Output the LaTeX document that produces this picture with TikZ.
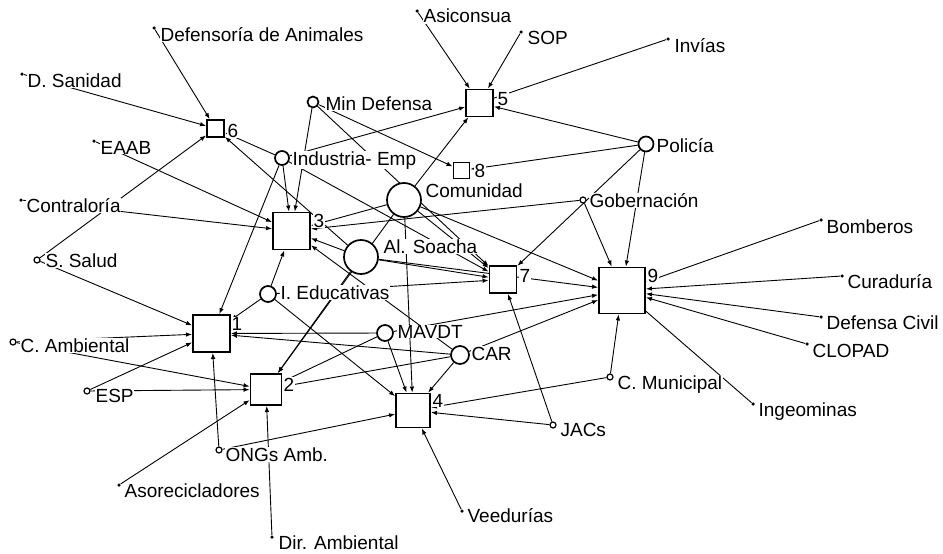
\documentclass[tikz,border=0pt]{standalone}
\usepackage{fontspec}
\setmainfont{Liberation Sans}
\usetikzlibrary{arrows.meta,backgrounds}
\begin{document}
\begin{tikzpicture}[x=1pt,y=-1pt,
 sq/.style={draw,fill=white,line width=1.9pt,minimum size=#1,inner sep=0,shape=rectangle},
 ci/.style={draw,fill=white,circle,line width=1.7pt,minimum size=#1,inner sep=0},
 dt/.style={fill=black,circle,minimum size=3.5pt,inner sep=0},
 oc/.style={draw,fill=white,circle,line width=1.2pt,minimum size=6pt,inner sep=0},
 lab/.style={anchor=base west,fill=white,inner sep=0.4pt,font=\fontsize{19}{21}\selectfont},
 ed/.style={line width=0.9pt,-{Latex[length=6pt,width=4.5pt]}},
 ln/.style={line width=0.9pt}]
\useasboundingbox (0,0) rectangle (943,554);
% squares
\node[sq=17pt] (S6) at (215.5,128.5) {};
\node[sq=27pt] (S5) at (479.5,103) {};
\node[sq=16pt] (S8) at (461.5,170.5) {};
\node[sq=37pt] (S3) at (291.5,231) {};
\node[sq=27pt] (S7) at (503,279.5) {};
\node[sq=46pt] (S9) at (622,290.5) {};
\node[sq=37pt] (S1) at (211.5,333.5) {};
\node[sq=31pt] (S2) at (266,389.5) {};
\node[sq=34pt] (S4) at (413,410.5) {};
% circles
\node[ci=34pt] (Com) at (404,200) {};
\node[ci=34pt] (AlS) at (361,257) {};
\node[ci=18pt] (CAR) at (460,355) {};
\node[ci=16pt] (MAV) at (385,333) {};
\node[ci=16pt] (IEd) at (268,294) {};
\node[ci=15pt] (Pol) at (646,144) {};
\node[ci=14pt] (Ind) at (282,158) {};
\node[ci=11pt] (MinD) at (313,102) {};
\node[oc] (Gob) at (583,200) {};
\node[oc] (CMun) at (610,377) {};
\node[oc] (JACs) at (553,425) {};
\node[oc] (ONG) at (219,450) {};
\node[oc] (SSal) at (37,260) {};
\node[oc] (CAmb) at (13,342) {};
\node[oc] (ESP) at (87,391) {};
% dots
\node[dt] (DefAn) at (154,28) {};
\node[dt] (DSan) at (22,74) {};
\node[dt] (EAAB) at (94,141) {};
\node[dt] (Contr) at (21,200) {};
\node[dt] (Asic) at (417,11) {};
\node[dt] (SOP) at (521,32) {};
\node[dt] (Inv) at (668,39) {};
\node[dt] (Bomb) at (821,220) {};
\node[dt] (Cura) at (842,276) {};
\node[dt] (DefC) at (821,317) {};
\node[dt] (CLOP) at (807,344) {};
\node[dt] (Ingeo) at (753,404) {};
\node[dt] (Veed) at (462,511) {};
\node[dt] (Asor) at (119,485) {};
\node[dt] (DirA) at (272,537) {};
% edges
\begin{scope}[on background layer]
\draw[ed] (DefAn) -- (S6);
\draw[ed] (DSan) -- (S6);
\draw[ed] (SSal) -- (S6);
\draw[ed] (Ind) -- (S6);
\draw[ed] (AlS) -- (S6);
\draw[ed] (Asic) -- (S5);
\draw[ed] (SOP) -- (S5);
\draw[ed] (Ind) -- (S5);
\draw[ed] (Com) -- (S5);
\draw[ed] (Pol) -- (S5);
\draw[ln] (Inv) -- (S5);
\draw[ed] (MinD) -- (S8);
\draw[ed] (Pol) -- (S8);
\draw[ed] (EAAB) -- (S3);
\draw[ed] (Contr) -- (S3);
\draw[ed] (Ind) -- (S3);
\draw[ed] (MinD) -- (S3);
\draw[ed] (Com) -- (S3);
\draw[ed] (Gob) -- (S3);
\draw[ed] (IEd) -- (S3);
\draw[ed] (AlS) -- (S3);
\draw[ed] (CAR) -- (S3);
\draw[ed] (MinD) -- (S7);
\draw[ed] (Com) -- (S7);
\draw[ed] (AlS) -- (S7);
\draw[ed] (IEd) -- (S7);
\draw[ed] (Ind) -- (S7);
\draw[ed] (JACs) -- (S7);
\draw[ed] (Pol) -- (S7);
\draw[ed] (Com) -- (S9);
\draw[ed] (Gob) -- (S9);
\draw[ed] (Pol) -- (S9);
\draw[ed] (Bomb) -- (S9);
\draw[ed] (Cura) -- (S9);
\draw[ed] (DefC) -- (S9);
\draw[ed] (CLOP) -- (S9);
\draw[ed] (CMun) -- (S9);
\draw[ln] (Ingeo) -- (S9);
\draw[ed] (AlS) -- (S9);
\draw[ed] (MAV) -- (S9);
\draw[ed] (CAR) -- (S9);
\draw[ed] (SSal) -- (S1);
\draw[ed] (CAmb) -- (S1);
\draw[ed] (ESP) -- (S1);
\draw[ed] (ONG) -- (S1);
\draw[ed] (Ind) -- (S1);
\draw[ed] (IEd) -- (S1);
\draw[ed] (MAV) -- (S1);
\draw[ed] (CAR) -- (S1);
\draw[ed] (CAmb) -- (S2);
\draw[ed] (ESP) -- (S2);
\draw[ed] (Asor) -- (S2);
\draw[ed] (DirA) -- (S2);
\draw[ed] (AlS) -- (S2);
\draw[ed] (MAV) -- (S2);
\draw[ed] (CAR) -- (S2);
\draw[ed] (Com) -- (S2);
\draw[ed] (ONG) -- (S4);
\draw[ed] (Veed) -- (S4);
\draw[ed] (JACs) -- (S4);
\draw[ed] (CMun) -- (S4);
\draw[ed] (MAV) -- (S4);
\draw[ed] (Com) -- (S4);
\draw[ed] (IEd) -- (S4);
\draw[ed] (CAR) -- (S4);
\end{scope}
% square labels
\node[lab] (l6) at (227,137) {6};
\node[lab] (l5) at (497,105) {5};
\node[lab] (l8) at (474,177) {8};
\node[lab] (l3) at (313,227) {3};
\node[lab] (l7) at (519,282) {7};
\node[lab] (l9) at (647,282) {9};
\node[lab] (l1) at (231,330) {1};
\node[lab] (l2) at (283,391) {2};
\node[lab] (l4) at (432,407) {4};
% actor labels
\node[lab] (tMinD) at (325,110) {Min Defensa};
\node[lab] (tInd) at (292,165) {Industria- Emp};
\node[lab] (tCom) at (425,197) {Comunidad};
\node[lab] (tAlS) at (383,253) {Al. Soacha};
\node[lab] (tIEd) at (280,299) {I. Educativas};
\node[lab] (tMAV) at (397,338) {MAVDT};
\node[lab] (tCAR) at (471,360) {CAR};
\node[lab] (tPol) at (656,152) {Policía};
\node[lab] (tGob) at (589,207) {Gobernación};
\node[lab] (tCMun) at (617,389) {C. Municipal};
\node[lab] (tJACs) at (560,436) {JACs};
\node[lab] (tONG) at (225,461) {ONGs Amb.};
\node[lab] (tSSal) at (45,267) {S. Salud};
\node[lab] (tCAmb) at (20,352) {C. Ambiental};
\node[lab] (tESP) at (95,402) {ESP};
\node[lab] (tDefAn) at (160,41) {Defensoría de Animales};
\node[lab] (tDSan) at (27,87) {D. Sanidad};
\node[lab] (tEAAB) at (100,154) {EAAB};
\node[lab] (tContr) at (26,212) {Contraloría};
\node[lab] (tAsic) at (423,23) {Asiconsua};
\node[lab] (tSOP) at (527,44) {SOP};
\node[lab] (tInv) at (674,52) {Invías};
\node[lab] (tBomb) at (826,233) {Bomberos};
\node[lab] (tCura) at (847,288) {Curaduría};
\node[lab] (tDefC) at (826,329) {Defensa Civil};
\node[lab] (tCLOP) at (812,357) {CLOPAD};
\node[lab] (tIngeo) at (758,416) {Ingeominas};
\node[lab] (tVeed) at (467,522) {Veedurías};
\node[lab] (tAsor) at (124,497) {Asorecicladores};
\node[lab] (tDirA) at (278,549) {Dir. Ambiental};
\end{tikzpicture}
\end{document}
